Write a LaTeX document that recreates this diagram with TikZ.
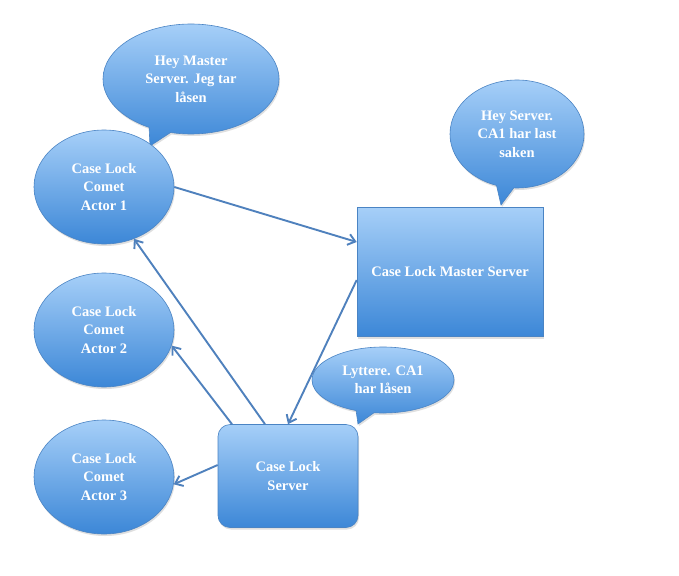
\documentclass[tikz,border=0pt]{standalone}
\usepackage{fontspec}
\setmainfont{Liberation Serif}
\usetikzlibrary{shapes.geometric,shapes.callouts,shadows,arrows.meta}
\definecolor{topc}{HTML}{A6CFF8}
\definecolor{botc}{HTML}{3C87D7}
\definecolor{edgec}{HTML}{4A84C4}
\definecolor{linec}{HTML}{4F81BD}
\tikzset{
  fillsty/.style={top color=topc, bottom color=botc, draw=edgec, line width=0.6pt,
    drop shadow={opacity=0.25, shadow xshift=1pt, shadow yshift=-2pt},
    text=white, font=\bfseries\fontsize{14.5}{18.5}\selectfont, align=center, inner sep=0pt},
  actor/.style={fillsty, ellipse, minimum width=140pt, minimum height=114pt},
  bubble/.style={fillsty, ellipse callout},
  conn/.style={draw=linec, line width=1.9pt, -{Straight Barb[length=7pt,width=11pt]}},
}
\begin{document}
\begin{tikzpicture}[x=1pt,y=-1pt]
\useasboundingbox[fill=white] (0,0) rectangle (679,575);
% speech bubbles
\node[bubble, minimum width=176pt, minimum height=110pt, callout absolute pointer={(150,146)}] (b1) at (191,79) {Hey Master\\Server. Jeg tar\\låsen};
\node[bubble, minimum width=134pt, minimum height=108pt, callout absolute pointer={(501,205)}] (b2) at (517,134) {Hey Server.\\CA1 har last\\saken};
\node[bubble, minimum width=142pt, minimum height=66pt, callout absolute pointer={(358,424)}] (b3) at (383,380) {Lyttere. CA1\\har låsen};
% actors
\node[actor] (a1) at (104,187) {Case Lock\\Comet\\Actor 1};
\node[actor] (a2) at (104,330) {Case Lock\\Comet\\Actor 2};
\node[actor] (a3) at (104,477) {Case Lock\\Comet\\Actor 3};
% servers
\node[fillsty, rectangle, minimum width=186pt, minimum height=129pt] (ms) at (450,272) {Case Lock Master Server};
\node[fillsty, rectangle, rounded corners=12pt, minimum width=140pt, minimum height=103pt] (cs) at (288,476) {Case Lock\\Server};
% connectors
\draw[conn] (a1.east) -- ([yshift=30pt]ms.west);
\draw[conn] ([yshift=-8pt]ms.west) -- (cs.north);
\draw[conn] ([xshift=-23pt]cs.north) -- (a1.-60);
\draw[conn] ([xshift=-56pt]cs.north) -- (a2.-13);
\draw[conn] ([yshift=11pt]cs.west) -- (a3.-6);
\end{tikzpicture}
\end{document}
